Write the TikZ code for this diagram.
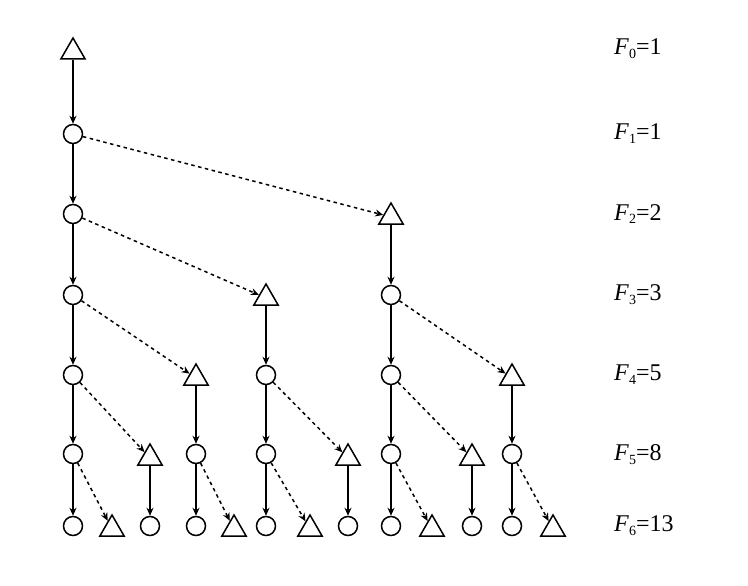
\documentclass[tikz,border=0pt]{standalone}
\usepackage{fontspec}
\setmainfont{Liberation Serif}
\usetikzlibrary{shapes.geometric,arrows.meta}
\begin{document}
\begin{tikzpicture}[x=1pt,y=-1pt,
  cnode/.style={circle,draw,minimum size=19pt,inner sep=0pt,line width=1.5pt},
  tnode/.style={regular polygon,regular polygon sides=3,draw,minimum size=28pt,inner sep=0pt,line width=1.5pt,yshift=-3pt},
  sol/.style={-{Stealth[length=8pt,width=7pt]},line width=1.6pt},
  dsh/.style={-{Stealth[length=8pt,width=7pt]},line width=1.5pt,dash pattern=on 3.5pt off 3.5pt},
  lab/.style={anchor=west,font=\fontsize{24}{27}\selectfont,inner sep=0pt}]
\path[use as bounding box] (0,0) rectangle (748,586);
% row 0
\node[tnode] (t0a) at (73,49) {};
% row 1
\node[cnode] (c1a) at (73,134) {};
% row 2
\node[cnode] (c2a) at (73,214) {};
\node[tnode] (t2a) at (391,214) {};
% row 3
\node[cnode] (c3a) at (73,295) {};
\node[tnode] (t3a) at (266,295) {};
\node[cnode] (c3b) at (391,295) {};
% row 4
\node[cnode] (c4a) at (73,375) {};
\node[tnode] (t4a) at (196,375) {};
\node[cnode] (c4b) at (266,375) {};
\node[cnode] (c4c) at (391,375) {};
\node[tnode] (t4b) at (512,375) {};
% row 5
\node[cnode] (c5a) at (73,454) {};
\node[tnode] (t5a) at (150,455) {};
\node[cnode] (c5b) at (196,454) {};
\node[cnode] (c5c) at (266,454) {};
\node[tnode] (t5b) at (348,455) {};
\node[cnode] (c5d) at (391,454) {};
\node[tnode] (t5c) at (472,455) {};
\node[cnode] (c5e) at (512,454) {};
% row 6
\node[cnode] (c6a) at (73,526) {};
\node[tnode] (t6a) at (112,526) {};
\node[cnode] (c6b) at (150,526) {};
\node[cnode] (c6c) at (196,526) {};
\node[tnode] (t6b) at (234,526) {};
\node[cnode] (c6d) at (266,526) {};
\node[tnode] (t6c) at (310,526) {};
\node[cnode] (c6e) at (348,526) {};
\node[cnode] (c6f) at (391,526) {};
\node[tnode] (t6d) at (432,526) {};
\node[cnode] (c6g) at (472,526) {};
\node[cnode] (c6h) at (512,526) {};
\node[tnode] (t6e) at (553,526) {};
% connectors
\draw[sol] (t0a) -- (c1a);
\draw[sol] (c1a) -- (c2a);
\draw[dsh] (c1a) -- (t2a);
\draw[sol] (c2a) -- (c3a);
\draw[dsh] (c2a) -- (t3a);
\draw[sol] (t2a) -- (c3b);
\draw[sol] (c3a) -- (c4a);
\draw[dsh] (c3a) -- (t4a);
\draw[sol] (t3a) -- (c4b);
\draw[sol] (c3b) -- (c4c);
\draw[dsh] (c3b) -- (t4b);
\draw[sol] (c4a) -- (c5a);
\draw[dsh] (c4a) -- (t5a);
\draw[sol] (t4a) -- (c5b);
\draw[sol] (c4b) -- (c5c);
\draw[dsh] (c4b) -- (t5b);
\draw[sol] (c4c) -- (c5d);
\draw[dsh] (c4c) -- (t5c);
\draw[sol] (t4b) -- (c5e);
\draw[sol] (c5a) -- (c6a);
\draw[dsh] (c5a) -- (t6a);
\draw[sol] (t5a) -- (c6b);
\draw[sol] (c5b) -- (c6c);
\draw[dsh] (c5b) -- (t6b);
\draw[sol] (c5c) -- (c6d);
\draw[dsh] (c5c) -- (t6c);
\draw[sol] (t5b) -- (c6e);
\draw[sol] (c5d) -- (c6f);
\draw[dsh] (c5d) -- (t6d);
\draw[sol] (t5c) -- (c6g);
\draw[sol] (c5e) -- (c6h);
\draw[dsh] (c5e) -- (t6e);
% labels
\node[lab] (l0) at (614,49) {\textit{F}\raisebox{-0.35ex}{\fontsize{14}{14}\selectfont 0}=1};
\node[lab] (l1) at (614,134) {\textit{F}\raisebox{-0.35ex}{\fontsize{14}{14}\selectfont 1}=1};
\node[lab] (l2) at (614,214) {\textit{F}\raisebox{-0.35ex}{\fontsize{14}{14}\selectfont 2}=2};
\node[lab] (l3) at (614,295) {\textit{F}\raisebox{-0.35ex}{\fontsize{14}{14}\selectfont 3}=3};
\node[lab] (l4) at (614,375) {\textit{F}\raisebox{-0.35ex}{\fontsize{14}{14}\selectfont 4}=5};
\node[lab] (l5) at (614,455) {\textit{F}\raisebox{-0.35ex}{\fontsize{14}{14}\selectfont 5}=8};
\node[lab] (l6) at (614,526) {\textit{F}\raisebox{-0.35ex}{\fontsize{14}{14}\selectfont 6}=13};
\end{tikzpicture}
\end{document}
